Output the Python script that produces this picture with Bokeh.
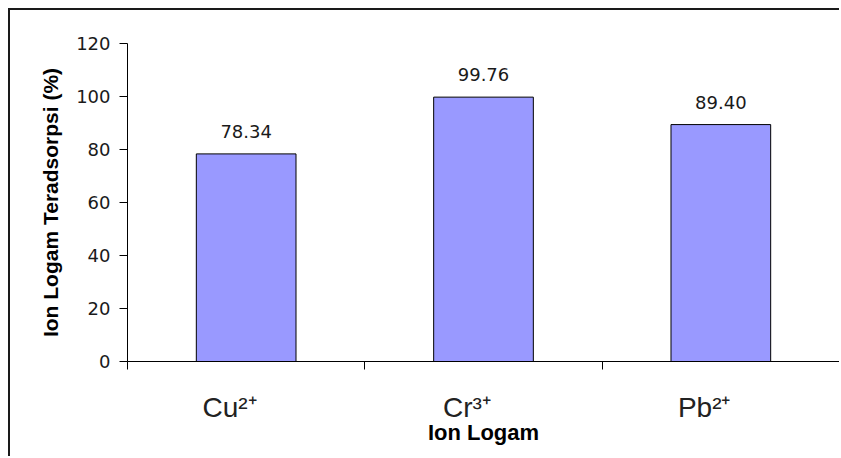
from bokeh.plotting import figure
from bokeh.models import FixedTicker, LabelSet, ColumnDataSource, Range1d
from bokeh.core.properties import value
from bokeh.embed import file_html
from bokeh.resources import INLINE

# ---- data ----
categories = ["Cu²⁺", "Cr³⁺", "Pb²⁺"]
values = [78.34, 99.76, 89.40]
y_ticks = [0, 20, 40, 60, 80, 100, 120]
x_title = "Ion Logam"
y_title = "Ion Logam Teradsorpsi (%)"

n = len(categories)
centers = [i + 0.5 for i in range(n)]
label_shift = 0.07
label_ticks = [c - label_shift for c in centers]
boundaries = list(range(n + 1))

src = ColumnDataSource(dict(
    x=centers,
    top=values,
    txt=[f"{v:.2f}" for v in values],
))

p = figure(
    width=829, height=446,
    x_range=Range1d(0, n), y_range=Range1d(0, y_ticks[-1]),
    output_backend="svg", toolbar_location=None,
    min_border_left=117, min_border_right=2,
    min_border_top=33, min_border_bottom=97,
    styles={"margin-left": "8px", "margin-top": "8px", "margin-bottom": "-12px",
            "border-left": "2px solid #1a1a1a", "border-top": "2px solid #1a1a1a",
            "box-sizing": "content-box", "overflow": "hidden",
            "background-color": "white"},
)
p.outline_line_color = None
p.grid.visible = False
p.background_fill_color = "white"
p.border_fill_color = "white"

p.vbar(x="x", top="top", width=0.42, source=src,
       fill_color="#9999FF", line_color="#000000", line_width=1)

p.add_layout(LabelSet(x="x", y="top", text="txt", source=src,
                      y_offset=16, text_align="center", text_baseline="alphabetic",
                      text_font=value("DejaVu Sans"), text_font_size=value("18px"),
                      text_color="#1a1a1a"))

# y axis
ya = p.yaxis[0]
ya.ticker = FixedTicker(ticks=y_ticks)
ya.major_tick_out = 8
ya.major_tick_in = 0
ya.minor_tick_out = 0
ya.minor_tick_in = 0
ya.axis_line_color = "#000000"
ya.major_tick_line_color = "#000000"
ya.major_label_text_font = "DejaVu Sans"
ya.major_label_text_font_size = "18px"
ya.major_label_text_color = "#1a1a1a"
ya.major_label_standoff = 9
ya.axis_label = y_title
ya.axis_label_text_font = "Liberation Sans"
ya.axis_label_text_font_style = "bold"
ya.axis_label_text_font_size = "21px"
ya.axis_label_text_color = "#000000"
ya.axis_label_standoff = 11

# x axis
xa = p.xaxis[0]
xa.ticker = FixedTicker(ticks=label_ticks, minor_ticks=boundaries)
xa.major_label_overrides = {t: c for t, c in zip(label_ticks, categories)}
xa.major_tick_out = 0
xa.major_tick_in = 0
xa.minor_tick_out = 8
xa.minor_tick_in = 0
xa.axis_line_color = "#000000"
xa.minor_tick_line_color = "#000000"
xa.major_label_text_font = "Liberation Sans"
xa.major_label_text_font_size = "28px"
xa.major_label_text_color = "#222222"
xa.major_label_standoff = 22
xa.axis_label = x_title
xa.axis_label_text_font = "Liberation Sans"
xa.axis_label_text_font_style = "bold"
xa.axis_label_text_font_size = "22px"
xa.axis_label_text_color = "#000000"
xa.axis_label_standoff = -6

open("out.html", "w").write(file_html(p, INLINE))
